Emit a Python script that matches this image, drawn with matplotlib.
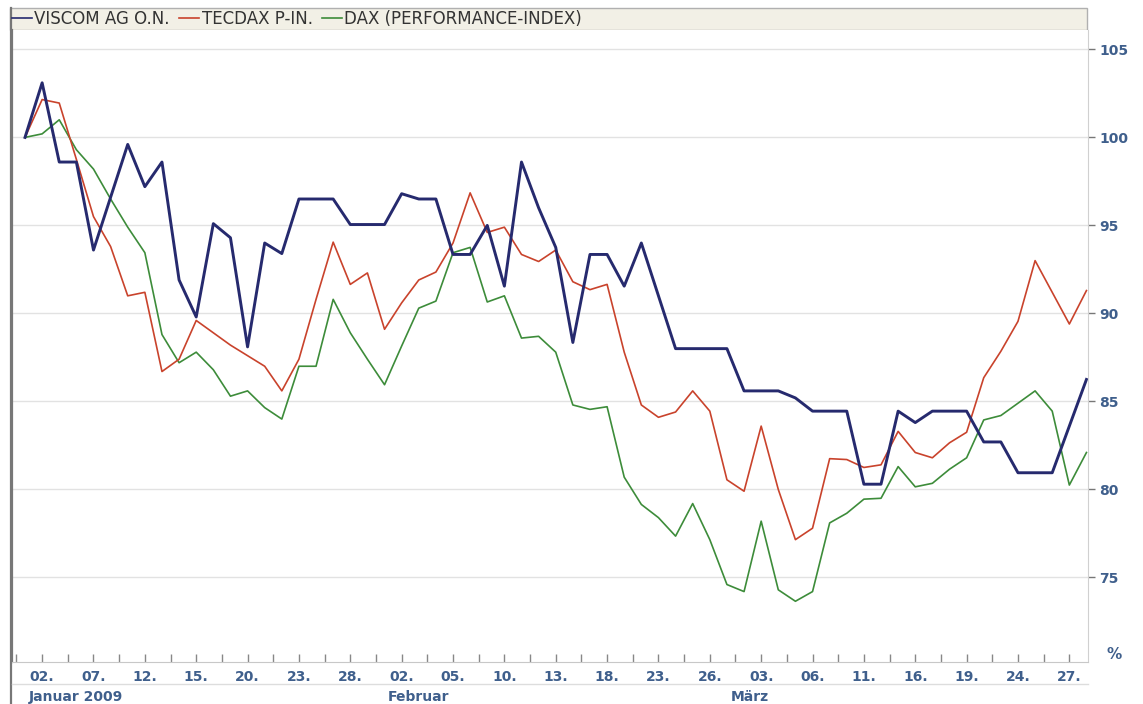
import matplotlib
matplotlib.use("Agg")
import matplotlib.pyplot as plt
from matplotlib.lines import Line2D
from matplotlib.patches import Rectangle
import matplotlib.transforms as mtransforms

# index values (30.12.2008 = 100), one point per trading day
viscom = [100, 103.1, 98.6, 98.6, 93.6, 96.6, 99.6, 97.2, 98.6, 91.9,
          89.8, 95.1, 94.3, 88.1, 94.0, 93.4, 96.5, 96.5, 96.5, 95.05,
          95.05, 95.05, 96.8, 96.5, 96.5, 93.35, 93.35, 95.0, 91.55, 98.6,
          96.0, 93.75, 88.35, 93.35, 93.35, 91.55, 94.0, 91.0, 88.0, 88.0,
          88.0, 88.0, 85.6, 85.6, 85.6, 85.2, 84.45, 84.45, 84.45, 80.3,
          80.3, 84.45, 83.8, 84.45, 84.45, 84.45, 82.7, 82.7, 80.95, 80.95,
          80.95, 83.6, 86.25]
tecdax = [100, 102.15, 101.95, 98.75, 95.5, 93.8, 91.0, 91.2, 86.7, 87.4,
          89.6, 88.9, 88.2, 87.6, 87.0, 85.6, 87.4, 90.8, 94.05, 91.65,
          92.3, 89.1, 90.6, 91.9, 92.35, 94.0, 96.85, 94.6, 94.9, 93.35,
          92.95, 93.6, 91.8, 91.35, 91.65, 87.8, 84.8, 84.1, 84.4, 85.6,
          84.45, 80.55, 79.9, 83.6, 80.0, 77.15, 77.8, 81.75, 81.7, 81.25,
          81.4, 83.3, 82.1, 81.8, 82.65, 83.25, 86.35, 87.85, 89.55, 93.0,
          91.2, 89.4, 91.3]
dax = [100, 100.2, 101.0, 99.3, 98.2, 96.5, 94.9, 93.45, 88.8, 87.2,
       87.8, 86.8, 85.3, 85.6, 84.65, 84.0, 87.0, 87.0, 90.8, 88.9,
       87.4, 85.95, 88.15, 90.3, 90.7, 93.45, 93.75, 90.65, 91.0, 88.6,
       88.7, 87.8, 84.8, 84.55, 84.7, 80.7, 79.15, 78.4, 77.35, 79.2,
       77.15, 74.6, 74.2, 78.2, 74.3, 73.65, 74.2, 78.1, 78.65, 79.45,
       79.5, 81.3, 80.15, 80.35, 81.15, 81.8, 83.95, 84.2, 84.9, 85.6,
       84.45, 80.25, 82.1]

tick_idx = list(range(1, 62, 3))
tick_labels = ["02.", "07.", "12.", "15.", "20.", "23.", "28.",
               "02.", "05.", "10.", "13.", "18.", "23.", "26.",
               "03.", "06.", "11.", "16.", "19.", "24.", "27."]
months = ["Januar 2009", "Februar", "März"]
month_idx = [1, 22, 42]
series_names = ["VISCOM AG O.N.", "TECDAX P-IN.", "DAX (PERFORMANCE-INDEX)"]

W, H = 1143, 704
lab_col = "#3f5f8c"

fig = plt.figure(figsize=(W / 100, H / 100), dpi=100)
fig.patch.set_facecolor("white")

# axes box in pixel terms (top-left origin)
left, right, top, bottom = 12, 1088, 30, 662
ax = fig.add_axes([left / W, (H - bottom) / H, (right - left) / W, (bottom - top) / H])
ax.set_zorder(3)

x = list(range(len(viscom)))
ax.plot(x, dax, color="#3d8c3a", lw=1.2)
ax.plot(x, tecdax, color="#c9432c", lw=1.2)
ax.plot(x, viscom, color="#262a6e", lw=2.1)

ax.yaxis.tick_right()
ax.set_yticks([75, 80, 85, 90, 95, 100, 105])
ax.tick_params(axis="y", direction="out", length=5, width=1, color="#777777",
               pad=3, labelsize=10, labelcolor=lab_col)
for t in ax.get_yticklabels():
    t.set_fontweight("bold")
ax.grid(axis="y", color="#e2e2e2", lw=1)

ax.set_xticks(tick_idx)
ax.set_xticklabels(tick_labels, fontweight="bold", fontsize=10, color=lab_col)
ax.set_xticks([i + 2.5 for i in range(-3, 60, 3)], minor=True)
ax.tick_params(axis="x", which="both", direction="in", length=6, width=1,
               color="#888888", pad=6)

ax.set_xlim(-0.76, 62.09)
ax.set_ylim(70.2, 106.1)

ax.spines["top"].set_visible(False)
ax.spines["left"].set_color("#777777")
ax.spines["left"].set_linewidth(1.6)
ax.spines["right"].set_color("#d0d0d0")
ax.spines["bottom"].set_color("#c8c8c8")

trans = mtransforms.blended_transform_factory(ax.transData, ax.transAxes)
for m, i in zip(months, month_idx):
    ax.text(i - 0.8, -0.055, m, transform=trans, ha="left", va="center",
            fontsize=10, fontweight="bold", color=lab_col)

ax.text(1.024, 0.012, "%", transform=ax.transAxes, ha="center", va="center",
        fontsize=11, fontweight="bold", color=lab_col)

# legend strip
fig.patches.append(Rectangle((10 / W, (H - 30) / H), 1077 / W, 22 / H,
                             transform=fig.transFigure, facecolor="#f2f0e6",
                             edgecolor="#b0b0b0", lw=1, zorder=0))
fig.lines.append(Line2D([11 / W, 11 / W], [0, (H - 8) / H], transform=fig.transFigure,
                        color="#777777", lw=1.6))
fig.lines.append(Line2D([12 / W, right / W], [(H - 684) / H] * 2,
                        transform=fig.transFigure, color="#dddddd", lw=1))

handles = [Line2D([], [], color="#262a6e", lw=1.2),
           Line2D([], [], color="#c9432c", lw=1.2),
           Line2D([], [], color="#3d8c3a", lw=1.2)]
ax.legend(handles, series_names, loc="center left",
          bbox_to_anchor=(0.0, (bottom - 19) / (bottom - top)), ncol=3,
          frameon=False, fontsize=12, handlelength=1.2, handletextpad=0.15,
          columnspacing=0.55, borderaxespad=0, borderpad=0,
          labelcolor="#333333")

fig.savefig("out.png", dpi=100)
